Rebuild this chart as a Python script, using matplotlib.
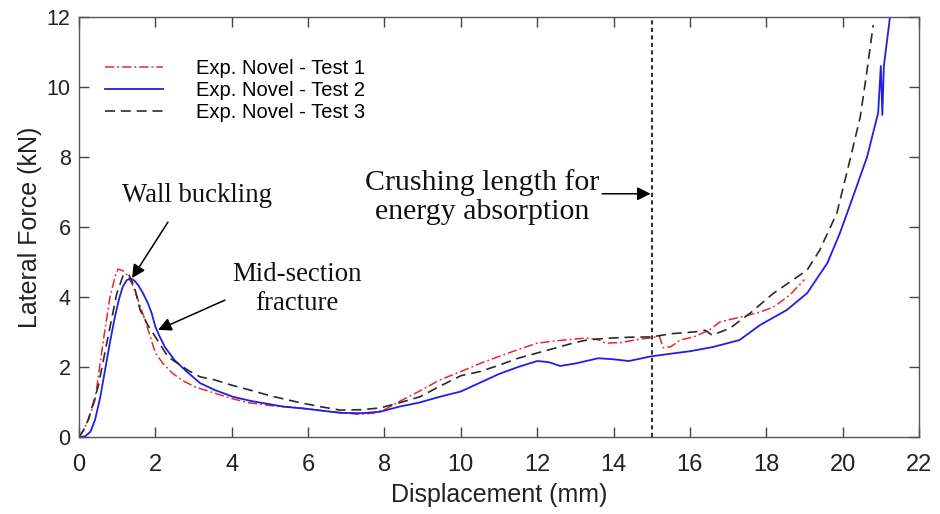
import matplotlib
matplotlib.use("Agg")
import matplotlib.pyplot as plt

# Test 1 (red, dash-dot)
x1 = [0, 0.1, 0.25, 0.42, 0.63, 0.81, 0.95, 1.02, 1.15, 1.26, 1.4, 1.52, 1.73, 2.0, 2.2,
      2.44, 2.7, 3.04, 3.56, 4.0, 4.43, 5.0, 5.79, 6.4, 6.84, 7.3, 7.7, 8.0, 8.4, 8.9,
      9.45, 10.0, 10.5, 11.0, 11.5, 12.0, 12.5, 13.0, 13.3, 13.6, 13.8, 14.2, 14.6, 14.96,
      15.2, 15.3, 15.5, 15.74, 16.1, 16.5, 16.79, 17.3, 17.84, 18.2, 18.62, 19.0]
y1 = [0, 0.15, 0.5, 1.06, 2.7, 4.0, 4.6, 4.8, 4.75, 4.63, 4.35, 4.0, 3.34, 2.4, 2.1,
      1.83, 1.62, 1.43, 1.25, 1.1, 0.98, 0.9, 0.83, 0.75, 0.7, 0.65, 0.68, 0.78, 1.02, 1.3,
      1.63, 1.87, 2.1, 2.3, 2.5, 2.68, 2.75, 2.8, 2.83, 2.78, 2.68, 2.7, 2.78, 2.83,
      2.88, 2.55, 2.58, 2.77, 2.86, 3.05, 3.29, 3.42, 3.57, 3.72, 4.06, 4.5]

# Test 2 (blue, solid)
x2 = [0, 0.16, 0.3, 0.42, 0.55, 0.68, 0.81, 0.94, 1.05, 1.15, 1.25, 1.34, 1.45, 1.55, 1.68,
      1.8, 1.9, 2.0, 2.1, 2.25, 2.5, 2.78, 3.17, 3.56, 4.03, 4.5, 5.34, 6.0, 6.84, 7.4,
      7.88, 8.4, 8.9, 9.45, 10.0, 10.5, 11.0, 11.5, 12.0, 12.3, 12.6, 13.0, 13.4, 13.6,
      14.0, 14.4, 14.96, 15.5, 16.0, 16.6, 17.3, 17.84, 18.54, 19.07, 19.6, 19.93, 20.27,
      20.64, 20.93, 21.0, 21.04, 21.08, 21.24, 21.3]
y2 = [0, 0.02, 0.15, 0.49, 1.1, 1.9, 2.7, 3.43, 3.95, 4.3, 4.48, 4.53, 4.47, 4.34, 4.1,
      3.83, 3.55, 3.15, 2.9, 2.57, 2.2, 1.91, 1.54, 1.34, 1.15, 1.03, 0.87, 0.8, 0.69, 0.68,
      0.72, 0.87, 0.98, 1.15, 1.3, 1.55, 1.8, 2.0, 2.17, 2.14, 2.03, 2.1, 2.2, 2.25,
      2.22, 2.17, 2.3, 2.38, 2.45, 2.57, 2.77, 3.2, 3.63, 4.11, 4.97, 5.83, 6.86,
      8.0, 9.26, 10.6, 9.2, 10.6, 12.0, 12.6]

# Test 3 (black, dashed)
x3 = [0, 0.12, 0.24, 0.5, 0.76, 0.99, 1.15, 1.3, 1.45, 1.6, 1.8, 2.0, 2.33, 2.85, 3.17,
      3.56, 4.0, 4.48, 5.0, 5.79, 6.3, 6.84, 7.4, 7.88, 8.4, 8.93, 9.45, 10.0, 10.5, 11.0,
      11.5, 12.0, 12.5, 13.0, 13.3, 13.8, 14.4, 15.0, 15.5, 16.1, 16.4, 16.58, 16.8, 17.05,
      17.58, 18.18, 18.7, 19.07, 19.4, 19.85, 20.19, 20.46, 20.63, 20.8]
y3 = [0, 0.2, 0.49, 1.43, 2.86, 4.1, 4.6, 4.65, 4.3, 3.63, 3.2, 2.86, 2.29, 1.91, 1.72,
      1.63, 1.48, 1.34, 1.18, 0.98, 0.87, 0.77, 0.78, 0.83, 0.98, 1.15, 1.45, 1.75, 1.87, 2.05,
      2.25, 2.4, 2.55, 2.7, 2.77, 2.82, 2.85, 2.86, 2.95, 3.0, 3.05, 2.91, 3.0, 3.11,
      3.54, 4.1, 4.49, 4.77, 5.34, 6.4, 7.91, 9.14, 10.4, 11.77]

labels = ["Exp. Novel - Test 1", "Exp. Novel - Test 2", "Exp. Novel - Test 3"]
x_ticks = list(range(0, 23, 2))
y_ticks = list(range(0, 13, 2))
crush_length = 15

sans = ["Liberation Sans", "DejaVu Sans"]
serif = ["Liberation Serif", "DejaVu Serif"]

fig = plt.figure(figsize=(9.4, 5.14), dpi=100)
ax = fig.add_axes([79 / 940, 77 / 514, 840 / 940, 420 / 514])

ax.plot(x1, y1, color="#e8282a", lw=1.1, ls=(0, (6, 2, 1.2, 2)), label=labels[0])
ax.plot(x2, y2, color="#1f1fe6", lw=1.3, ls="-", label=labels[1])
ax.plot(x3, y3, color="#2b2b2b", lw=1.2, ls=(0, (6, 3.5)), label=labels[2])

ax.axvline(crush_length, color="#333333", lw=1.5, ls=(0, (2, 1.6)))

ax.set_xlim(0, 22)
ax.set_ylim(0, 12)
ax.set_xticks(x_ticks)
ax.set_yticks(y_ticks)
ax.tick_params(direction="in", length=7, width=1, top=True, right=True,
               colors="#444444", labelcolor="#222222")
ax.tick_params(axis="y", labelsize=15.5, pad=6)
ax.tick_params(axis="x", labelsize=17, pad=12)
for lab in ax.get_xticklabels() + ax.get_yticklabels():
    lab.set_family(sans)
for sp in ax.spines.values():
    sp.set_color("#555555")
    sp.set_linewidth(1.0)

ax.set_xlabel("Displacement (mm)", fontsize=18, family=sans, color="#222222", labelpad=5)
ax.set_ylabel("Lateral Force (kN)", fontsize=18, family=sans, color="#222222", labelpad=3)

leg = ax.legend(loc="upper left", bbox_to_anchor=(0.031, 0.9), frameon=False,
                handlelength=2.9, handletextpad=1.6, labelspacing=0.15,
                borderaxespad=0, borderpad=0, prop={"family": sans, "size": 14.5})

arrow = dict(arrowstyle="-|>", color="black", lw=1.1, mutation_scale=20, shrinkA=0, shrinkB=0)
txt = dict(family=serif, color="#111111", ha="center", va="center")

ax.annotate("", xy=(1.39, 4.54), xytext=(2.33, 6.14), arrowprops=arrow)
ax.text(3.09, 6.91, "Wall buckling", fontsize=19.3, **txt)

ax.annotate("", xy=(2.07, 3.06), xytext=(3.82, 3.91), arrowprops=arrow)
ax.text(5.71, 4.22, "Mid-section\nfracture", fontsize=19.3, linespacing=1.2, **txt)

ax.annotate("", xy=(14.97, 6.95), xytext=(13.7, 6.95), arrowprops=arrow)
ax.text(10.55, 6.86, "Crushing length for\nenergy absorption", fontsize=21.5,
        linespacing=1.15, **txt)

fig.savefig("out.png", dpi=100)
